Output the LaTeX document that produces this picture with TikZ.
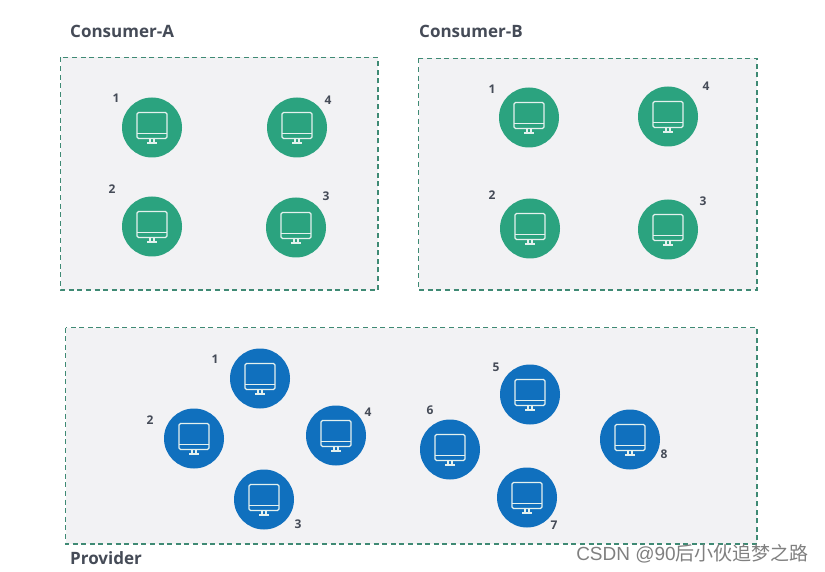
\documentclass[tikz,border=0pt]{standalone}
\usepackage{fontspec}
\setmainfont{Open Sans}
\newfontfamily\cjkf{Noto Sans CJK SC}
\newfontfamily\wmf{Liberation Sans}
\definecolor{grn}{HTML}{2BA37F}
\definecolor{blu}{HTML}{1070BE}
\definecolor{dash}{HTML}{3F8A74}
\definecolor{bg}{HTML}{F2F2F4}
\definecolor{txt}{HTML}{454B57}
\definecolor{ico}{HTML}{E4F1EE}
\tikzset{x=1pt,y=-1pt,
 zone/.style={draw=dash,fill=bg,line width=1.5pt,dash pattern=on 5pt off 3.6pt},
 disc/.style={circle,inner sep=0pt,minimum size=60pt},
 gdisc/.style={disc,fill=grn},
 bdisc/.style={disc,fill=blu},
 num/.style={font=\fontsize{12}{14}\selectfont\bfseries,text=txt,inner sep=0pt},
 head/.style={font=\fontsize{17}{20}\selectfont\bfseries,text=txt,inner sep=0pt,anchor=west},
 mon/.pic={
  \draw[ico,line width=1.2pt,rounded corners=1.5pt] (-15,-15) rectangle (15,11);
  \draw[ico,line width=1.1pt] (-15,6) -- (15,6);
  \draw[ico,line width=1.1pt] (-2,11) -- (-2,15.5) (2,11) -- (2,15.5) (-5,15.5) -- (5,15.5);
 }}
\newcommand{\unit}[7]{%
 \node[#1] (#2) at (#3,#4+.5) {};
 \pic at (#2.center) {mon};
 \node[num] (#2n) at (#5,#6) {#7};}
\begin{document}
\begin{tikzpicture}
\useasboundingbox (0,0) rectangle (825,572);
\fill[white] (0,0) rectangle (825,572);
\coordinate (za1) at (60.5,57.5); \coordinate (za2) at (378,290);
\coordinate (zb1) at (418.5,58.5); \coordinate (zb2) at (757,290);
\coordinate (zp1) at (65.5,327.5); \coordinate (zp2) at (757,544);
\path[zone] (za1) rectangle (za2);
\path[zone] (zb1) rectangle (zb2);
\path[zone] (zp1) rectangle (zp2);
\node[head] (ta) at (70,31.5) {Consumer-A};
\node[head] (tb) at (419,31.5) {Consumer-B};
\node[head] (tp) at (70,558.5) {Provider};
\unit{gdisc}{aa1}{152}{127}{116}{98}{1}
\unit{gdisc}{aa4}{297}{127}{328}{100}{4}
\unit{gdisc}{aa2}{152}{226}{112}{189}{2}
\unit{gdisc}{aa3}{296}{227}{326}{196}{3}
\unit{gdisc}{bb1}{529}{117}{492}{89}{1}
\unit{gdisc}{bb4}{668}{116}{706}{86}{4}
\unit{gdisc}{bb2}{530}{228}{492}{195}{2}
\unit{gdisc}{bb3}{668}{229}{703}{201}{3}
\unit{bdisc}{pp1}{260}{378}{215}{359}{1}
\unit{bdisc}{pp2}{194}{438}{150}{420}{2}
\unit{bdisc}{pp4}{336}{435}{368}{412}{4}
\unit{bdisc}{pp3}{264}{499}{298}{524}{3}
\unit{bdisc}{pp5}{530}{394}{496}{367}{5}
\unit{bdisc}{pp6}{450}{449}{430}{410}{6}
\unit{bdisc}{pp8}{630}{439}{664}{454}{8}
\unit{bdisc}{pp7}{527}{497}{554}{525}{7}
\node[inner sep=0pt,anchor=east,text=black!50,font=\fontsize{19}{23}\selectfont] (wm) at (809,554) {\wmf CSDN @90\cjkf 后小伙追梦之路};
\end{tikzpicture}
\end{document}
